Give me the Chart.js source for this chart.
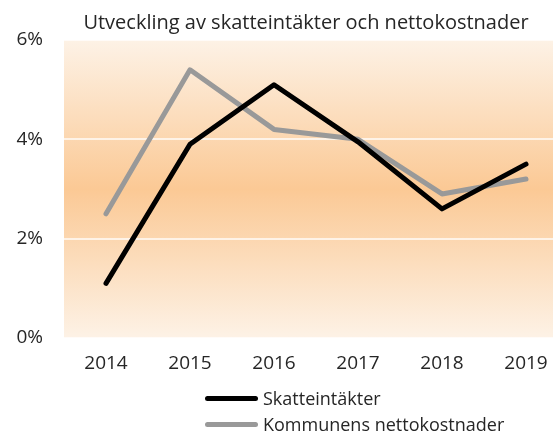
<!DOCTYPE html>
<html lang="sv">
<head>
<meta charset="utf-8">
<script src="https://cdn.jsdelivr.net/npm/chart.js@4.4.1/dist/chart.umd.min.js"></script>
<style>
  html, body { margin: 0; padding: 0; background: #fff; }
  #contenedor { position: relative; width: 553px; height: 434px; overflow: hidden; }
  #leyenda { position: absolute; left: 205px; top: 385px; font-family: 'Open Sans', sans-serif; font-size: 18px; color: #262626; }
  .fila { display: flex; align-items: center; height: 26px; }
  .linea { display: inline-block; width: 53px; height: 5px; border-radius: 3px; margin-right: 5px; }
</style>
</head>
<body>
<div id="contenedor">
  <!-- el lienzo es algo mas ancho: el area del grafico se corta por la derecha -->
  <canvas id="grafico" width="568" height="434"></canvas>
  <div id="leyenda"></div>
</div>
<script>
const anios = ['2014', '2015', '2016', '2017', '2018', '2019'];
const skatteintakter = [1.1, 3.9, 5.1, 3.95, 2.6, 3.5];
const nettokostnader = [2.5, 5.4, 4.2, 4.0, 2.9, 3.2];
const nombresSeries = ['Skatteintäkter', 'Kommunens nettokostnader'];
const coloresSeries = ['#000000', '#999999'];

// fondo degradado del area del grafico
const fondoDegradado = {
  id: 'fondoDegradado',
  afterLayout(chart) {
    // centrar el titulo como en el original
    chart.titleBlock.left -= 10;
    chart.titleBlock.right -= 10;
  },
  beforeDraw(chart) {
    const { ctx, chartArea } = chart;
    const grad = ctx.createLinearGradient(0, chartArea.top, 0, chartArea.bottom);
    grad.addColorStop(0, '#fdf2e6');
    grad.addColorStop(0.5, '#fbc995');
    grad.addColorStop(1, '#fdf2e6');
    ctx.save();
    ctx.fillStyle = grad;
    ctx.fillRect(chartArea.left, chartArea.top, chartArea.right - chartArea.left, chartArea.bottom - chartArea.top);
    ctx.restore();
  }
};

const ctx = document.getElementById('grafico');

new Chart(ctx, {
  type: 'line',
  data: {
    labels: anios,
    datasets: [{
      label: nombresSeries[0],
      data: skatteintakter,
      borderColor: coloresSeries[0],
      borderWidth: 5,
      borderCapStyle: 'round',
      borderJoinStyle: 'round',
      pointRadius: 0,
      tension: 0
    }, {
      label: nombresSeries[1],
      data: nettokostnader,
      borderColor: coloresSeries[1],
      borderWidth: 5,
      borderCapStyle: 'round',
      borderJoinStyle: 'round',
      pointRadius: 0,
      tension: 0
    }]
  },
  options: {
    responsive: false,
    animation: false,
    layout: {
      padding: { left: 0, right: 0, top: 0, bottom: 56 }
    },
    plugins: {
      title: {
        display: true,
        fullSize: false,
        text: 'Utveckling av skatteintäkter och nettokostnader',
        color: '#262626',
        font: { size: 20, family: "'Open Sans', sans-serif", weight: 'normal' },
        padding: { top: 11, bottom: 5 }
      },
      legend: { display: false },
      tooltip: { enabled: false }
    },
    scales: {
      x: {
        offset: true,
        grid: { display: false, drawTicks: false },
        border: { display: false },
        ticks: {
          color: '#262626',
          padding: 14,
          font: { size: 19, family: "'Open Sans', sans-serif" }
        },
        afterFit(scale) { scale.height = 40; }
      },
      y: {
        min: 0,
        max: 6,
        grid: { color: 'rgba(255,255,255,0.7)', lineWidth: 2, drawTicks: false },
        border: { display: false },
        ticks: {
          stepSize: 2,
          color: '#262626',
          padding: 21,
          font: { size: 19, family: "'Open Sans', sans-serif" },
          callback: (valor) => valor + '%'
        },
        afterFit(scale) { scale.width = 64; }
      }
    }
  },
  plugins: [fondoDegradado]
});

// leyenda vertical en html
const leyenda = document.getElementById('leyenda');
nombresSeries.forEach((nombre, i) => {
  const fila = document.createElement('div');
  fila.className = 'fila';
  const linea = document.createElement('span');
  linea.className = 'linea';
  linea.style.background = coloresSeries[i];
  const texto = document.createElement('span');
  texto.textContent = nombre;
  fila.appendChild(linea);
  fila.appendChild(texto);
  leyenda.appendChild(fila);
});
</script>
</body>
</html>
